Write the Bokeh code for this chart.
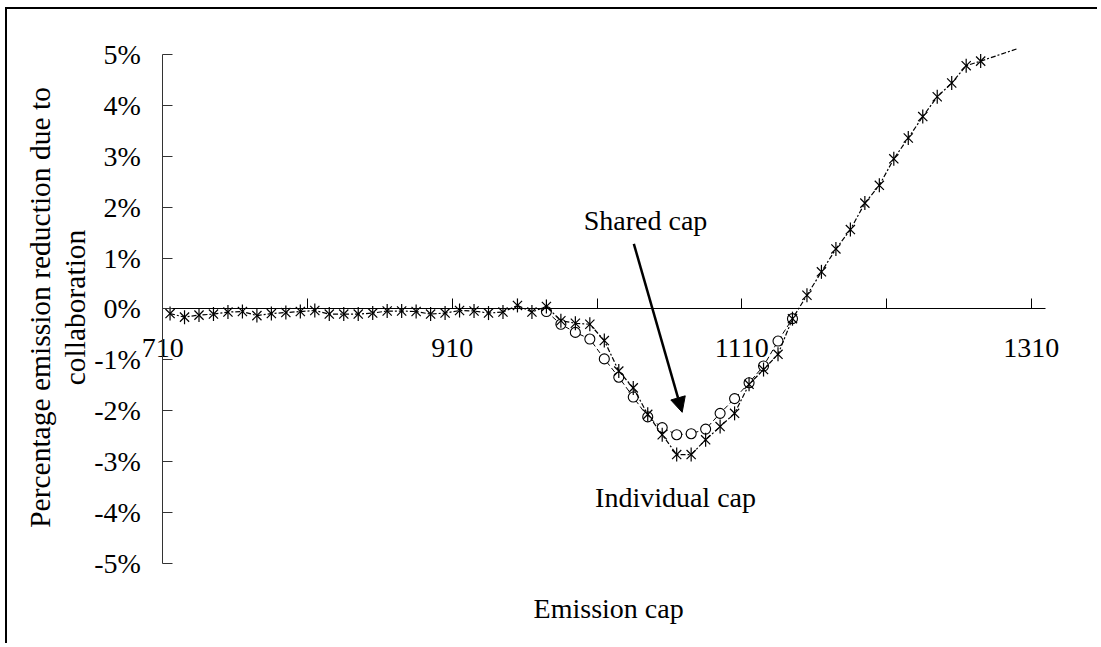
import math
from bokeh.plotting import figure
from bokeh.models import Range1d, FixedTicker, Label, Arrow, NormalHead
from bokeh.embed import file_html
from bokeh.resources import INLINE

# ---------------- data ----------------
x_ticks = [710, 810, 910, 1010, 1110, 1210, 1310]
x_tick_labels = ["710", "", "910", "", "1110", "", "1310"]
y_ticks = [-5, -4, -3, -2, -1, 0, 1, 2, 3, 4, 5]
y_tick_labels = ["-5%", "-4%", "-3%", "-2%", "-1%", "0%", "1%", "2%", "3%", "4%", "5%"]

# Individual cap (star markers); last point is drawn as line only
individual_x = [715, 725, 735, 745, 755, 765, 775, 785, 795, 805,
                815, 825, 835, 845, 855, 865, 875, 885, 895, 905,
                915, 925, 935, 945, 955, 965, 975, 985, 995, 1005,
                1015, 1025, 1035, 1045, 1055, 1065, 1075, 1085, 1095, 1105,
                1115, 1125, 1135, 1145, 1155, 1165, 1175, 1185, 1195, 1205,
                1215, 1225, 1235, 1245, 1255, 1265, 1275, 1300]
individual_y = [-0.09, -0.16, -0.12, -0.10, -0.06, -0.05, -0.13, -0.09, -0.07, -0.05,
                -0.03, -0.10, -0.10, -0.10, -0.08, -0.04, -0.04, -0.05, -0.10, -0.08,
                -0.03, -0.04, -0.08, -0.06, 0.07, -0.06, 0.05, -0.23, -0.28, -0.30,
                -0.62, -1.22, -1.55, -2.07, -2.47, -2.86, -2.86, -2.57, -2.31, -2.05,
                -1.48, -1.19, -0.89, -0.19, 0.27, 0.73, 1.18, 1.56, 2.08, 2.43,
                2.95, 3.36, 3.78, 4.17, 4.44, 4.78, 4.87, 5.11]
individual_marked = 57

# Shared cap (circle markers)
shared_x = [975, 985, 995, 1005, 1015, 1025, 1035, 1045, 1055, 1065,
            1075, 1085, 1095, 1105, 1115, 1125, 1135, 1145]
shared_y = [-0.05, -0.30, -0.46, -0.59, -0.98, -1.34, -1.73, -2.12, -2.33, -2.47,
            -2.45, -2.36, -2.05, -1.76, -1.45, -1.12, -0.63, -0.19]

FONT = "Liberation Serif"
FS = "28px"

p = figure(width=1092, height=636,
           x_range=Range1d(602.7, 1357.1), y_range=Range1d(-6.611, 5.884),
           output_backend="svg", toolbar_location=None,
           min_border=0, min_border_left=0, min_border_right=0,
           min_border_top=0, min_border_bottom=0)
p.styles = {"margin-left": "5px", "margin-top": "7px",
            "border-left": "2px solid black", "border-top": "2px solid black"}
p.outline_line_color = None
p.xgrid.visible = False
p.ygrid.visible = False
p.background_fill_color = "white"
p.border_fill_color = "white"

# x axis crossing at 0
xa = p.xaxis[0]
xa.fixed_location = 0
xa.bounds = (710, 1320)
xa.ticker = FixedTicker(ticks=x_ticks)
xa.major_label_overrides = {t: l for t, l in zip(x_ticks, x_tick_labels)}
xa.major_tick_in = 10
xa.major_tick_out = 0
xa.minor_tick_line_color = None
xa.axis_line_color = "black"
xa.major_tick_line_color = "black"
xa.major_label_standoff = 30
xa.major_label_text_font = FONT
xa.major_label_text_font_size = FS
xa.major_label_text_color = "black"

ya = p.yaxis[0]
ya.fixed_location = 710
ya.ticker = FixedTicker(ticks=y_ticks)
ya.major_label_overrides = {t: l for t, l in zip(y_ticks, y_tick_labels)}
ya.bounds = (-5, 5)
ya.major_tick_in = 10
ya.major_tick_out = 0
ya.minor_tick_line_color = None
ya.axis_line_color = "#333333"
ya.major_tick_line_color = "#333333"
ya.major_label_standoff = 22
ya.major_label_text_font = FONT
ya.major_label_text_font_size = FS
ya.major_label_text_color = "black"

# Shared cap series
p.line(shared_x, shared_y, line_color="black", line_width=1, line_dash="5 3")
p.scatter(shared_x, shared_y, marker="circle", size=10, line_color="black",
          line_width=1.1, fill_color="white")

# Individual cap series
p.line(individual_x, individual_y, line_color="black", line_width=1.2, line_dash="5 2 2 2")
mx = individual_x[:individual_marked]
my = individual_y[:individual_marked]
p.scatter(mx, my, marker="x", size=13, line_color="black", line_width=1.2)
p.scatter(mx, my, marker="dash", angle=math.pi / 2, size=14, line_color="black", line_width=1.2)

# annotations
p.add_layout(Arrow(end=NormalHead(size=15, fill_color="black", line_color="black"),
                   x_start=1035.4, y_start=1.28, x_end=1068.8, y_end=-2.03,
                   line_width=2.5, line_color="black"))
p.add_layout(Label(x=1043.5, y=1.73, text="Shared cap", text_align="center",
                   text_baseline="alphabetic", text_font=FONT, text_font_size=FS,
                   text_color="black"))
p.add_layout(Label(x=1064.2, y=-3.70, text="Individual cap", text_align="center",
                   text_baseline="alphabetic", text_font=FONT, text_font_size=FS,
                   text_color="black"))
p.add_layout(Label(x=1018, y=-5.88, text="Emission cap", text_align="center",
                   text_baseline="alphabetic", text_font=FONT, text_font_size=FS,
                   text_color="black"))
p.add_layout(Label(x=637.5, y=0.03, text="Percentage emission reduction due to\ncollaboration",
                   angle=math.pi / 2, text_align="center", text_baseline="middle",
                   text_line_height=1.1, text_font=FONT, text_font_size="29.5px",
                   text_color="black"))

open("out.html", "w").write(file_html(p, INLINE))
